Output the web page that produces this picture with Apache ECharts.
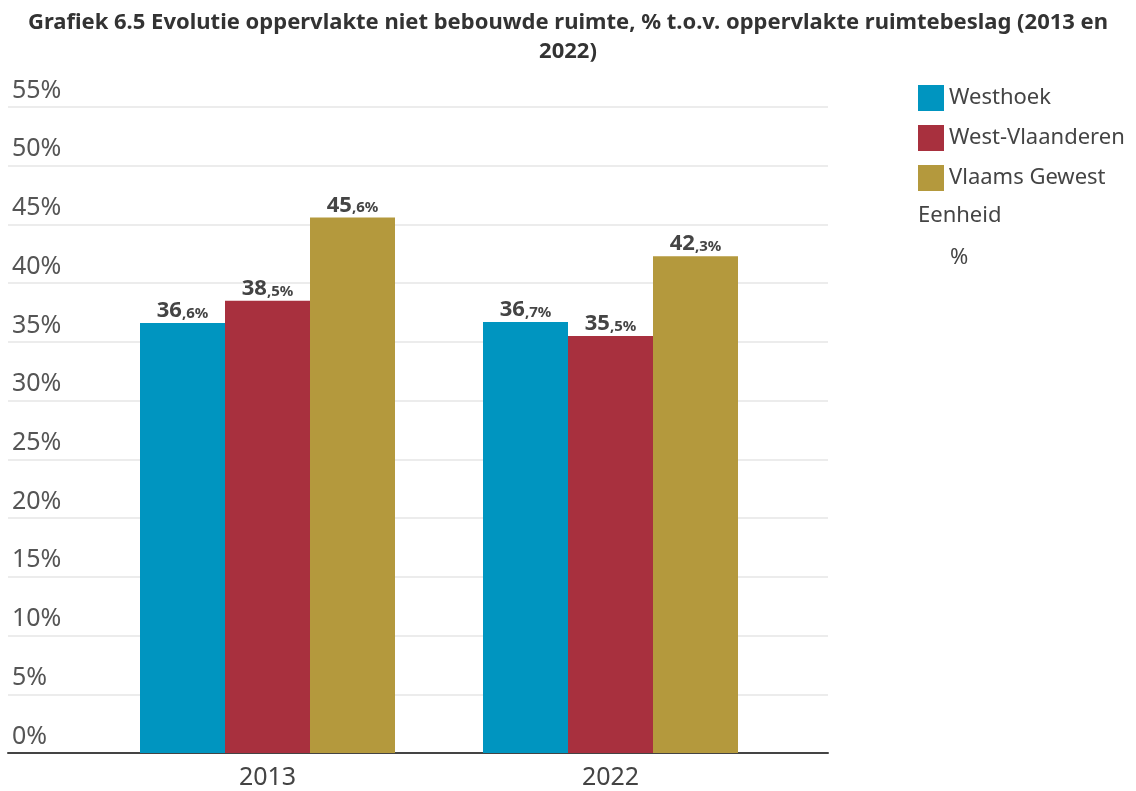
<!DOCTYPE html>
<html>
<head>
<meta charset="utf-8">
<script src="https://cdn.jsdelivr.net/npm/echarts@6/dist/echarts.min.js"></script>
<style>
  html, body { margin: 0; padding: 0; background: #fff; }
  #chart { width: 1136px; height: 791px; }
</style>
</head>
<body>
<div id="chart"></div>
<script>
// Gegevens
const years = ['2013', '2022'];
const westhoek = [36.6, 36.7];
const westVlaanderen = [38.5, 35.5];
const vlaamsGewest = [45.6, 42.3];
const seriesNames = ['Westhoek', 'West-Vlaanderen', 'Vlaams Gewest'];
const colors = ['#0095c0', '#a8303e', '#b4993d'];

const FONT = '"Noto Sans", sans-serif';

// Waarde als "36,6%" met kleinere decimalen
function fmtLabel(p) {
    const parts = p.value.toFixed(1).split('.');
    return '{a|' + parts[0] + '}{b|,' + parts[1] + '%}';
}

const labelStyle = {
    show: true,
    position: 'top',
    distance: 1,
    formatter: fmtLabel,
    rich: {
        a: { fontFamily: FONT, fontSize: 22, fontWeight: 'bold', color: '#444' },
        b: { fontFamily: FONT, fontSize: 15, fontWeight: 'bold', color: '#444', padding: [5, 0, 0, 0] }
    }
};

function barSeries(name, data, color) {
    return {
        name: name,
        type: 'bar',
        xAxisIndex: 1,
        yAxisIndex: 1,
        barWidth: 85,
        barGap: '0%',
        itemStyle: { color: color },
        label: labelStyle,
        data: data
    };
}

const chart = echarts.init(document.getElementById('chart'));

chart.setOption({
    animation: false,
    color: colors,
    textStyle: { fontFamily: FONT },
    title: {
        text: 'Grafiek 6.5 Evolutie oppervlakte niet bebouwde ruimte, % t.o.v. oppervlakte ruimtebeslag (2013 en\n2022)',
        left: 'center',
        top: 3,
        textStyle: { fontFamily: FONT, fontSize: 22, fontWeight: 'bold', color: '#333', lineHeight: 29, align: 'center' }
    },
    legend: {
        orient: 'vertical',
        left: 913,
        top: 80,
        itemWidth: 26,
        itemHeight: 26,
        itemGap: 14,
        icon: 'rect',
        data: seriesNames,
        textStyle: { fontFamily: FONT, fontSize: 22, color: '#444' }
    },
    graphic: [
        { type: 'text', left: 918, top: 205, style: { text: 'Eenheid', fontFamily: FONT, fontSize: 22, fill: '#444' } },
        { type: 'text', left: 950, top: 247, style: { text: '%', fontFamily: FONT, fontSize: 22, fill: '#444' } }
    ],
    grid: [
        { left: 8, right: 308, top: 107, bottom: 38 },
        { left: 96, right: 354, top: 107, bottom: 38 }
    ],
    xAxis: [
        {
            type: 'value', gridIndex: 0, min: 0, max: 1,
            axisLine: { show: true, lineStyle: { color: '#444', width: 2 } },
            axisTick: { show: false }, axisLabel: { show: false }, splitLine: { show: false }
        },
        {
            type: 'category', gridIndex: 1, data: years,
            axisLine: { show: false }, axisTick: { show: false },
            axisLabel: { fontFamily: FONT, fontSize: 25, color: '#444', margin: 12 }
        }
    ],
    yAxis: [
        {
            type: 'value', gridIndex: 0, min: 0, max: 55, interval: 5,
            axisLine: { show: false }, axisTick: { show: false },
            splitLine: { lineStyle: { color: '#e6e6e6', width: 1.5 } },
            axisLabel: {
                inside: true, margin: 4, verticalAlign: 'bottom', padding: [0, 0, 4, 0],
                fontFamily: FONT, fontSize: 25, color: '#555',
                formatter: v => v + '%'
            }
        },
        {
            type: 'value', gridIndex: 1, min: 0, max: 55, interval: 5, show: false
        }
    ],
    series: [
        barSeries(seriesNames[0], westhoek, colors[0]),
        barSeries(seriesNames[1], westVlaanderen, colors[1]),
        barSeries(seriesNames[2], vlaamsGewest, colors[2])
    ]
});
</script>
</body>
</html>
